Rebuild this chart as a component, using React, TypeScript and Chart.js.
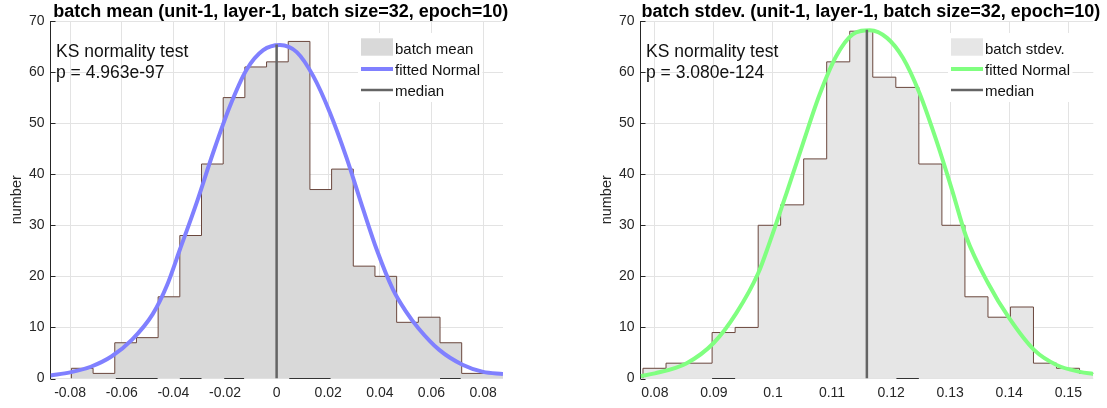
import React, { useEffect, useRef } from "react";
import { Chart, registerables } from "chart.js";

Chart.register(...registerables);

const FONT = "'Liberation Sans', Arial, Helvetica, sans-serif";

// ---------------- shared ----------------
const yTicks = [0, 10, 20, 30, 40, 50, 60, 70];
const yRange = [0, 70];
const yTitle = "number";
const legendMedian = "median";
const legendFitted = "fitted Normal";
const ksLine1 = "KS normality test";

// ---------------- left panel: batch mean ----------------
const meanTitle = "batch mean (unit-1, layer-1, batch size=32, epoch=10)";
const meanBinEdges = [
  -0.0795, -0.0711, -0.0627, -0.0543, -0.0459, -0.0375, -0.0291, -0.0207, -0.0123, -0.0039,
  0.0045, 0.0129, 0.0213, 0.0297, 0.0381, 0.0465, 0.0549, 0.0633, 0.0717, 0.0801, 0.0885,
];
const meanCounts = [2, 1, 7, 8, 16, 28, 42, 55, 61, 62, 66, 37, 41, 22, 20, 11, 12, 7, 1, 1];
const meanCurveX = [
  -0.0876, -0.08, -0.072, -0.064, -0.056, -0.048, -0.0425, -0.0375, -0.031, -0.0246, -0.0181,
  -0.0116, -0.0052, 0.0013, 0.0078, 0.0142, 0.0207, 0.0271, 0.0336, 0.0388, 0.045, 0.05, 0.055,
  0.063, 0.072, 0.08, 0.0877,
];
const meanCurveY = [
  0.6, 1.2, 2.3, 4.3, 7.6, 12.6, 18.2, 25.2, 34.4, 44.2, 53.3, 60.5, 64.3, 65.3, 63.9, 59.2, 52.0,
  43.2, 33.0, 25.2, 17.5, 13.2, 9.8, 5.6, 2.7, 1.3, 0.9,
];
const meanMedian = [0.0];
const meanMedianTop = [65.4];
const meanXRange = [-0.0876, 0.0877];
const meanXTicks = [-0.08, -0.06, -0.04, -0.02, 0, 0.02, 0.04, 0.06, 0.08];
const meanXTickLabels = ["-0.08", "-0.06", "-0.04", "-0.02", "0", "0.02", "0.04", "0.06", "0.08"];
const meanBaseSegStart = [-0.0623, -0.0375, -0.0203, 0.0049, 0.0633];
const meanBaseSegEnd = [-0.0461, -0.0291, -0.0126, 0.0209, 0.0713];
const meanPValue = "p = 4.963e-97";
const meanLegendHist = "batch mean";

// ---------------- right panel: batch stdev ----------------
const stdTitle = "batch stdev. (unit-1, layer-1, batch size=32, epoch=10)";
const stdBinEdges = [
  0.078, 0.0819, 0.0858, 0.0897, 0.0936, 0.0975, 0.1013, 0.1052, 0.1091, 0.113, 0.1169, 0.1208,
  0.1247, 0.1286, 0.1325, 0.1364, 0.1402, 0.1441, 0.148, 0.1519, 0.1558,
];
const stdCounts = [2, 3, 3, 9, 10, 30, 34, 43, 62, 68, 59, 57, 42, 30, 16, 12, 14, 3, 2, 1];
const stdCurveX = [
  0.0776, 0.08, 0.0854, 0.09, 0.0938, 0.0975, 0.0994, 0.1023, 0.1051, 0.1079, 0.1107, 0.1135,
  0.1164, 0.1193, 0.122, 0.1248, 0.1276, 0.1304, 0.1327, 0.1364, 0.14, 0.1442, 0.1481, 0.152,
  0.1542,
];
const stdCurveY = [
  0.5, 1.0, 3.0, 7.0, 12.8, 20.6, 26.5, 36.3, 46.1, 55.6, 63.1, 67.4, 68.2, 66.7, 62.8, 55.9, 46.8,
  36.6, 27.8, 18.7, 11.8, 5.6, 2.6, 1.3, 0.9,
];
const stdMedian = [0.1159];
const stdMedianTop = [68.3];
const stdXRange = [0.07758, 0.15423];
const stdXTicks = [0.08, 0.09, 0.1, 0.11, 0.12, 0.13, 0.14, 0.15];
const stdXTickLabels = ["0.08", "0.09", "0.1", "0.11", "0.12", "0.13", "0.14", "0.15"];
const stdBaseSegStart = [0.0897, 0.1209];
const stdBaseSegEnd = [0.0936, 0.1247];
const stdPValue = "p = 3.080e-124";
const stdLegendHist = "batch stdev.";

// ---------------- styles ----------------
const edgeColor = "#6a473d";
const medianColor = "#646464";
const gridColor = "#e3e3e3";
const axisColor = "#262626";

type Panel = {
  title: string;
  edges: number[];
  counts: number[];
  curveX: number[];
  curveY: number[];
  median: number;
  medianTop: number;
  xRange: number[];
  xTicks: number[];
  xTickLabels: string[];
  segStart: number[];
  segEnd: number[];
  pValue: string;
  legendHist: string;
  fill: string;
  curveColor: string;
  width: number;
  rightPad: number;
};

const panels: Panel[] = [
  {
    title: meanTitle,
    edges: meanBinEdges,
    counts: meanCounts,
    curveX: meanCurveX,
    curveY: meanCurveY,
    median: meanMedian[0],
    medianTop: meanMedianTop[0],
    xRange: meanXRange,
    xTicks: meanXTicks,
    xTickLabels: meanXTickLabels,
    segStart: meanBaseSegStart,
    segEnd: meanBaseSegEnd,
    pValue: meanPValue,
    legendHist: meanLegendHist,
    fill: "#d9d9d9",
    curveColor: "#8080ff",
    width: 553,
    rightPad: 50,
  },
  {
    title: stdTitle,
    edges: stdBinEdges,
    counts: stdCounts,
    curveX: stdCurveX,
    curveY: stdCurveY,
    median: stdMedian[0],
    medianTop: stdMedianTop[0],
    xRange: stdXRange,
    xTicks: stdXTicks,
    xTickLabels: stdXTickLabels,
    segStart: stdBaseSegStart,
    segEnd: stdBaseSegEnd,
    pValue: stdPValue,
    legendHist: stdLegendHist,
    fill: "#e6e6e6",
    curveColor: "#80ff80",
    width: 517,
    rightPad: 13.7,
  },
];

function buildChart(canvas: HTMLCanvasElement, p: Panel) {
  const n = p.counts.length;
  const histData: { x: number; y: number }[] = [{ x: p.edges[0], y: 0 }];
  for (let i = 0; i < n; i++) histData.push({ x: p.edges[i], y: p.counts[i] });
  histData.push({ x: p.edges[n], y: p.counts[n - 1] });
  histData.push({ x: p.edges[n], y: 0 });

  const baseData: { x: number; y: number | null }[] = [];
  p.segStart.forEach((s, i) => {
    baseData.push({ x: s, y: 0 }, { x: p.segEnd[i], y: 0 }, { x: p.segEnd[i], y: null });
  });

  const curveData = p.curveX.map((x, i) => ({ x, y: p.curveY[i] }));
  const medianData = [
    { x: p.median, y: 0 },
    { x: p.median, y: p.medianTop },
  ];

  const overlay = {
    id: "overlay" + p.legendHist,
    afterDraw(chart: any) {
      const ctx = chart.ctx as CanvasRenderingContext2D;
      const a = chart.chartArea;
      const ys = chart.scales.y;
      ctx.save();
      // inward y ticks
      ctx.strokeStyle = axisColor;
      ctx.lineWidth = 1;
      yTicks.forEach((v) => {
        const y = Math.round(ys.getPixelForValue(v)) + 0.5;
        ctx.beginPath();
        ctx.moveTo(a.left, y);
        ctx.lineTo(a.left + 5, y);
        ctx.stroke();
      });
      // title
      ctx.fillStyle = "#000";
      ctx.font = `bold 18px ${FONT}`;
      ctx.textAlign = "center";
      ctx.textBaseline = "alphabetic";
      ctx.fillText(p.title, (a.left + a.right) / 2 + 4, 16.5);
      // KS text
      ctx.font = `17.5px ${FONT}`;
      ctx.textAlign = "left";
      ctx.fillStyle = "#111";
      ctx.fillText(ksLine1, a.left + 5.5, 57.3);
      ctx.fillText(p.pValue, a.left + 5.5, 78.3);
      // legend
      ctx.font = `15px ${FONT}`;
      const labels = [p.legendHist, legendFitted, legendMedian];
      const tx = a.left + 344.5;
      const w = Math.max(...labels.map((t) => ctx.measureText(t).width));
      const bx = a.left + 307.5;
      ctx.fillStyle = "#fff";
      ctx.fillRect(bx, 33, tx + w + 2.5 - bx, 69);
      ctx.fillStyle = p.fill;
      ctx.fillRect(a.left + 310.5, 38.3, 32, 17.4);
      ctx.lineCap = "butt";
      ctx.strokeStyle = p.curveColor;
      ctx.lineWidth = 4;
      ctx.beginPath();
      ctx.moveTo(a.left + 310.5, 69);
      ctx.lineTo(a.left + 342.5, 69);
      ctx.stroke();
      ctx.strokeStyle = medianColor;
      ctx.lineWidth = 2.5;
      ctx.beginPath();
      ctx.moveTo(a.left + 310.5, 90);
      ctx.lineTo(a.left + 342.5, 90);
      ctx.stroke();
      ctx.fillStyle = "#111";
      ctx.fillText(labels[0], tx, 53.5);
      ctx.fillText(labels[1], tx, 74.5);
      ctx.fillText(labels[2], tx, 95.5);
      ctx.restore();
    },
  };

  return new Chart(canvas, {
    type: "scatter",
    data: {
      datasets: [
        {
          label: legendMedian,
          data: medianData,
          showLine: true,
          borderColor: medianColor,
          borderWidth: 2.5,
          pointRadius: 0,
          order: 0,
        } as any,
        {
          label: legendFitted,
          data: curveData,
          showLine: true,
          borderColor: p.curveColor,
          borderWidth: 4,
          pointRadius: 0,
          cubicInterpolationMode: "monotone",
          order: 1,
        } as any,
        {
          label: "baseline",
          data: baseData,
          showLine: true,
          spanGaps: false,
          borderColor: "#333333",
          borderWidth: 1.2,
          pointRadius: 0,
          clip: 3,
          order: 2,
        } as any,
        {
          label: p.legendHist,
          data: histData,
          showLine: true,
          stepped: "before",
          fill: "origin",
          backgroundColor: p.fill,
          borderColor: edgeColor,
          borderWidth: 1,
          pointRadius: 0,
          order: 3,
        } as any,
      ],
    },
    options: {
      responsive: false,
      animation: false,
      devicePixelRatio: 1,
      layout: { padding: { left: 0, right: p.rightPad, top: 21, bottom: 0 } },
      plugins: {
        legend: { display: false },
        tooltip: { enabled: false },
        title: { display: false },
      },
      events: [],
      scales: {
        x: {
          type: "linear",
          position: "bottom",
          min: p.xRange[0],
          max: p.xRange[1],
          afterBuildTicks: (scale: any) => {
            scale.ticks = p.xTicks.map((v) => ({ value: v }));
          },
          afterFit: (scale: any) => {
            scale.height = 29.5;
          },
          grid: { color: gridColor, drawTicks: false, lineWidth: 1 },
          border: { display: false },
          ticks: {
            autoSkip: false,
            maxRotation: 0,
            padding: 6,
            color: axisColor,
            font: { family: FONT, size: 14 },
            callback: (value: any) => {
              const i = p.xTicks.findIndex((t) => Math.abs(t - Number(value)) < 1e-9);
              return i >= 0 ? p.xTickLabels[i] : "";
            },
          },
        },
        y: {
          type: "linear",
          min: yRange[0],
          max: yRange[1],
          afterBuildTicks: (scale: any) => {
            scale.ticks = yTicks.map((v) => ({ value: v }));
          },
          afterFit: (scale: any) => {
            scale.width = 50.5;
          },
          grid: { color: gridColor, drawTicks: false, lineWidth: 1 },
          border: { display: true, color: axisColor, width: 1 },
          ticks: {
            padding: 6,
            color: axisColor,
            font: { family: FONT, size: 14 },
            callback: (value: any) => String(value),
          },
          title: {
            display: true,
            text: yTitle,
            color: axisColor,
            font: { family: FONT, size: 14.5 },
            padding: { top: 8, bottom: 0 },
          },
        },
      },
    } as any,
    plugins: [overlay],
  });
}

function ChartPanel({ panel, left }: { panel: Panel; left: number }) {
  const ref = useRef<HTMLCanvasElement | null>(null);
  useEffect(() => {
    if (!ref.current) return;
    const chart = buildChart(ref.current, panel);
    return () => chart.destroy();
  }, [panel]);
  return (
    <div style={{ position: "absolute", left, top: 0, width: panel.width, height: 408 }}>
      <canvas
        ref={ref}
        width={panel.width}
        height={408}
        style={{ display: "block", width: panel.width, height: 408 }}
      />
    </div>
  );
}

export default function App() {
  return (
    <div
      style={{
        position: "fixed",
        left: 0,
        top: 0,
        width: 1107,
        height: 408,
        background: "#ffffff",
        overflow: "hidden",
      }}
    >
      <ChartPanel panel={panels[0]} left={0} />
      <ChartPanel panel={panels[1]} left={590} />
    </div>
  );
}
